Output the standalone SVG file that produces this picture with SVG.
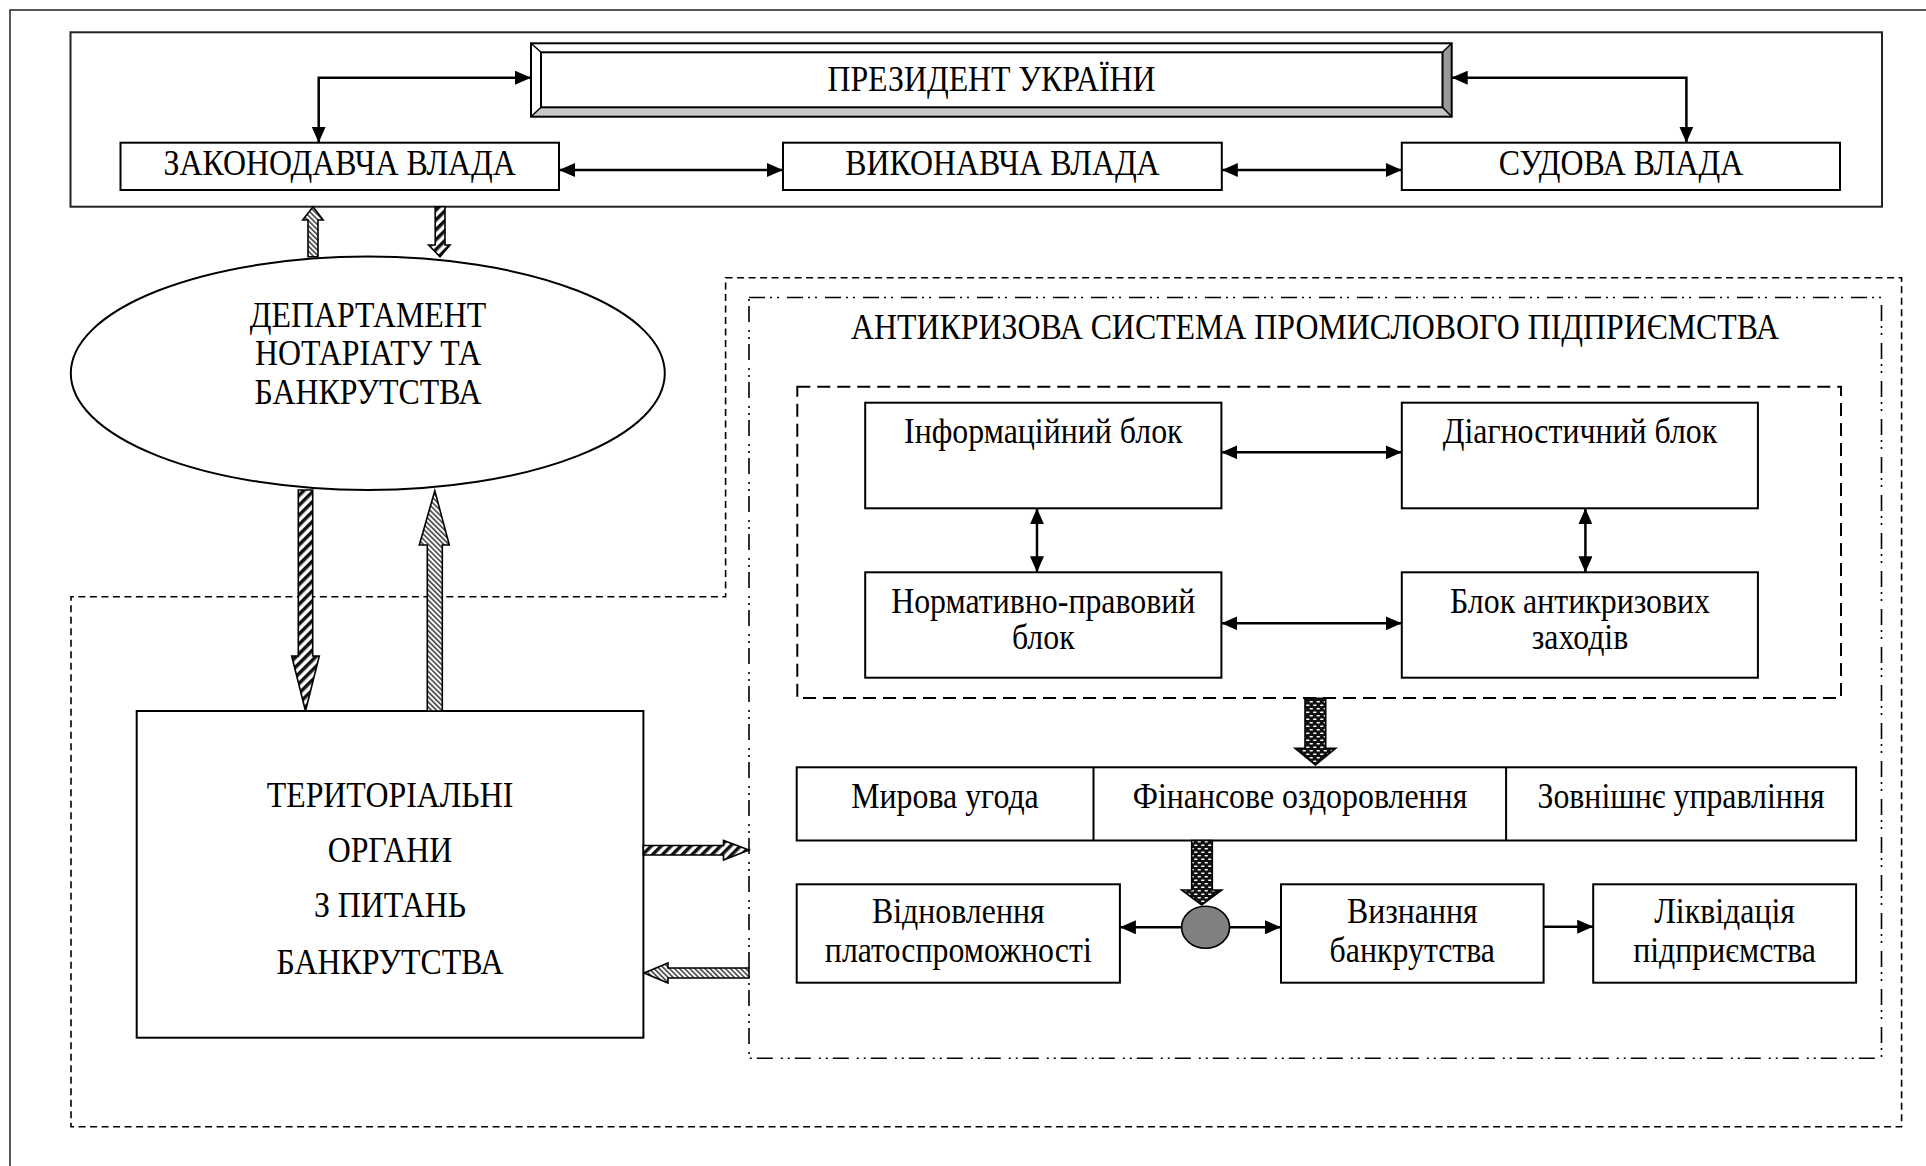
<svg xmlns="http://www.w3.org/2000/svg" width="1926" height="1166" viewBox="0 0 1926 1166">
<style>
.box{fill:#fff;stroke:#000;stroke-width:2}
.t{font-family:"Liberation Serif","Times New Roman",serif;font-size:36px;text-anchor:middle;fill:#000;transform-box:fill-box;transform-origin:center;transform:scaleX(0.885)}
.conn{fill:none;stroke:#000;stroke-width:2.5}
.blk{stroke:#000;stroke-width:1.6;stroke-linejoin:miter}
.bold{fill:url(#hatchBold)}
.fine{fill:url(#hatchFine)}
.dots{fill:url(#dotPat)}
</style>
<defs>
<marker id="ah" markerUnits="userSpaceOnUse" markerWidth="16" markerHeight="14" refX="16" refY="7" orient="auto-start-reverse" viewBox="0 0 16 14">
<path d="M0,0 L16,7 L0,14 z" fill="#000"/>
</marker>
<pattern id="hatchBold" patternUnits="userSpaceOnUse" width="7" height="7" patternTransform="rotate(45)">
<rect width="7" height="7" fill="#fff"/>
<rect width="3.5" height="7" fill="#111"/>
</pattern>
<pattern id="hatchFine" patternUnits="userSpaceOnUse" width="3.6" height="3.6" patternTransform="rotate(-45)">
<rect width="3.6" height="3.6" fill="#fff"/>
<rect width="1.6" height="3.6" fill="#444"/>
</pattern>
<pattern id="dotPat" patternUnits="userSpaceOnUse" width="7" height="7">
<rect width="7" height="7" fill="#111"/>
<rect x="0.5" y="1" width="3.5" height="1.6" rx="0.8" fill="#fff"/>
<rect x="4" y="4.5" width="3.5" height="1.6" rx="0.8" fill="#fff"/>
<rect x="-3" y="4.5" width="3.5" height="1.6" rx="0.8" fill="#fff"/>
</pattern>
</defs>

<rect x="10" y="10" width="1930" height="1170" fill="none" stroke="#222" stroke-width="1.5"/>

<g id="regions">
<rect x="70.5" y="32.3" width="1811.5" height="174.4" fill="none" stroke="#222" stroke-width="2"/>
<path d="M725.6,277.7 H1901.6 V1126.7 H71 V596.7 H725.6 Z" fill="none" stroke="#000" stroke-width="1.6" stroke-dasharray="7 4.5"/>
<rect x="749" y="297.5" width="1132.5" height="760.8" fill="none" stroke="#000" stroke-width="1.6" stroke-dasharray="16 5 2 5 2 8"/>
<rect x="797.3" y="386.7" width="1043.7" height="311.3" fill="none" stroke="#000" stroke-width="2" stroke-dasharray="13 7"/>
<text class="t" x="1315" y="339">АНТИКРИЗОВА СИСТЕМА ПРОМИСЛОВОГО ПІДПРИЄМСТВА</text>
</g>

<g id="president">
<polygon points="531,43.3 1451.7,43.3 1442.5,52.3 541,52.3" fill="#fff"/>
<polygon points="531,43.3 541,52.3 541,107.3 531,116.7" fill="#fff"/>
<polygon points="531,116.7 541,107.3 1442.5,107.3 1451.7,116.7" fill="#c8c8c8"/>
<polygon points="1451.7,43.3 1451.7,116.7 1442.5,107.3 1442.5,52.3" fill="#999"/>
<rect x="531" y="43.3" width="920.7" height="73.4" fill="none" stroke="#000" stroke-width="2"/>
<rect x="541" y="52.3" width="901.5" height="55" fill="#fff" stroke="#000" stroke-width="2"/>
<path d="M531,43.3 L541,52.3 M1451.7,43.3 L1442.5,52.3 M531,116.7 L541,107.3 M1451.7,116.7 L1442.5,107.3" stroke="#000" stroke-width="1.5"/>
<text class="t" x="991.5" y="91">ПРЕЗИДЕНТ УКРАЇНИ</text>
</g>

<g id="zakon">
<rect class="box" x="120.5" y="142.7" width="438.5" height="47.3"/>
<text class="t" x="339.7" y="175">ЗАКОНОДАВЧА ВЛАДА</text>
</g>
<g id="vykon">
<rect class="box" x="783" y="142.7" width="438.8" height="47.3"/>
<text class="t" x="1002.4" y="175">ВИКОНАВЧА ВЛАДА</text>
</g>
<g id="sud">
<rect class="box" x="1401.8" y="142.7" width="438.2" height="47.3"/>
<text class="t" x="1620.9" y="175">СУДОВА ВЛАДА</text>
</g>

<g id="department">
<ellipse cx="367.8" cy="373.3" rx="297" ry="116.7" fill="#fff" stroke="#000" stroke-width="2"/>
<text class="t" x="368" y="327">ДЕПАРТАМЕНТ</text>
<text class="t" x="368" y="365.5">НОТАРІАТУ ТА</text>
<text class="t" x="368" y="404">БАНКРУТСТВА</text>
</g>

<g id="territorial">
<rect class="box" x="136.7" y="711" width="506.7" height="326.7"/>
<text class="t" x="390" y="807.5">ТЕРИТОРІАЛЬНІ</text>
<text class="t" x="390" y="862.5">ОРГАНИ</text>
<text class="t" x="390" y="917.5">З ПИТАНЬ</text>
<text class="t" x="390" y="974">БАНКРУТСТВА</text>
</g>

<g id="info">
<rect class="box" x="865.2" y="402.7" width="356.2" height="105.6"/>
<text class="t" x="1043.3" y="443">Інформаційний блок</text>
</g>
<g id="diag">
<rect class="box" x="1401.8" y="402.7" width="356.1" height="105.6"/>
<text class="t" x="1580" y="443">Діагностичний блок</text>
</g>
<g id="norm">
<rect class="box" x="865.2" y="572.3" width="356.2" height="105.4"/>
<text class="t" x="1043.3" y="612.7">Нормативно-правовий</text>
<text class="t" x="1043.3" y="649.5">блок</text>
</g>
<g id="antikriz">
<rect class="box" x="1401.8" y="572.3" width="356.1" height="105.4"/>
<text class="t" x="1580" y="612.7">Блок антикризових</text>
<text class="t" x="1580" y="649.5">заходів</text>
</g>

<g id="procedures">
<rect class="box" x="796.7" y="767.3" width="1059.4" height="73.2"/>
<path d="M1093.5,767.3 V840.5 M1506.1,767.3 V840.5" stroke="#000" stroke-width="2"/>
<text class="t" x="945" y="808.5">Мирова угода</text>
<text class="t" x="1300" y="808.5">Фінансове оздоровлення</text>
<text class="t" x="1681" y="808.5">Зовнішнє управління</text>
</g>

<g id="decision">
<ellipse cx="1205.6" cy="927.3" rx="24" ry="21" fill="#808080" stroke="#000" stroke-width="1.6"/>
</g>

<g id="vidnovl">
<rect class="box" x="796.7" y="884.3" width="323.2" height="98.4"/>
<text class="t" x="958.3" y="923.5">Відновлення</text>
<text class="t" x="958.3" y="962">платоспроможності</text>
</g>
<g id="vyznan">
<rect class="box" x="1281" y="884.3" width="262.6" height="98.4"/>
<text class="t" x="1412.3" y="923.5">Визнання</text>
<text class="t" x="1412.3" y="962">банкрутства</text>
</g>
<g id="likvid">
<rect class="box" x="1593.2" y="884.3" width="262.9" height="98.4"/>
<text class="t" x="1724.6" y="923.5">Ліквідація</text>
<text class="t" x="1724.6" y="962">підприємства</text>
</g>

<g id="connectors">
<path class="conn" d="M531,77.7 H318.7 V142.7" marker-start="url(#ah)" marker-end="url(#ah)"/>
<path class="conn" d="M559,170 H783" marker-start="url(#ah)" marker-end="url(#ah)"/>
<path class="conn" d="M1221.8,170 H1401.8" marker-start="url(#ah)" marker-end="url(#ah)"/>
<path class="conn" d="M1451.7,77.7 H1686.4 V142.7" marker-start="url(#ah)" marker-end="url(#ah)"/>
<path class="conn" d="M1221.4,452.3 H1401.8" marker-start="url(#ah)" marker-end="url(#ah)"/>
<path class="conn" d="M1221.4,623.3 H1401.8" marker-start="url(#ah)" marker-end="url(#ah)"/>
<path class="conn" d="M1037,508.3 V572.3" marker-start="url(#ah)" marker-end="url(#ah)"/>
<path class="conn" d="M1585.4,508.3 V572.3" marker-start="url(#ah)" marker-end="url(#ah)"/>
<path class="conn" d="M1181.6,927.3 H1119.9" marker-end="url(#ah)"/>
<path class="conn" d="M1229.6,927.3 H1281" marker-end="url(#ah)"/>
<path class="conn" d="M1543.6,926.7 H1593.2" marker-end="url(#ah)"/>

<polygon class="blk fine" points="308,256.7 308,220 302.7,220 313,206.7 323.2,220 318,220 318,256.7"/>
<polygon class="blk bold" points="435.2,206.7 445,206.7 445,245 450,245 440,256.7 428.6,245 435.2,245"/>
<polygon class="blk bold" points="298.3,490 312.7,490 312.7,656 319.3,656 305.5,711 291.7,656 298.3,656"/>
<polygon class="blk fine" points="427.3,711 427.3,545 419.3,545 434.8,490.7 449.3,545 442.3,545 442.3,711"/>
<polygon class="blk bold" points="643.4,845.5 723.5,845.5 723.5,840.5 749,850 723.5,860 723.5,855 643.4,855"/>
<polygon class="blk fine" points="749,968 668,968 668,963 644,973 668,983 668,978 749,978"/>
<polygon class="blk dots" points="1305,698.3 1325.7,698.3 1325.7,748.3 1335.7,748.3 1315.4,765 1295,748.3 1305,748.3"/>
<polygon class="blk dots" points="1191.7,840.5 1212.3,840.5 1212.3,890 1221.7,890 1201.7,905 1181.7,890 1191.7,890"/>
</g>
</svg>
